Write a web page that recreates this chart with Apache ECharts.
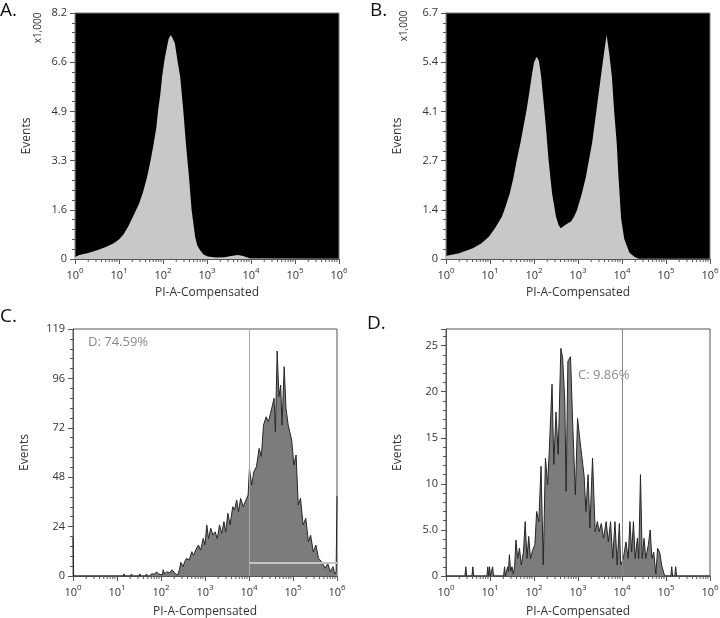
<!DOCTYPE html>
<html lang="en">
<head>
<meta charset="UTF-8">
<title>PI histograms</title>
<script src="https://cdn.jsdelivr.net/npm/echarts@6/dist/echarts.min.js"></script>
<style>html,body{margin:0;padding:0;background:#fff}</style>
</head>
<body>
<div id="main" style="width:720px;height:618px"></div>
<script>
// x positions are stored as decade exponents (10^e)
var xTickExp = ['0', '1', '2', '3', '4', '5', '6'];

// panel A (events x1,000)
var expA = [0, 0.1, 0.3, 0.52, 0.7, 0.87, 1.0, 1.1, 1.21, 1.33, 1.46, 1.55, 1.64, 1.72, 1.79, 1.85, 1.89, 1.94, 1.98,
    2.03, 2.08, 2.13, 2.18, 2.22, 2.27, 2.33, 2.39, 2.46, 2.52, 2.59, 2.65, 2.73, 2.78, 2.84, 2.92, 3.02, 3.2, 3.4,
    3.55, 3.7, 3.82, 3.92, 3.98, 4.0, 6];
var valA = [0.07, 0.13, 0.2, 0.3, 0.4, 0.52, 0.65, 0.82, 1.08, 1.45, 1.86, 2.25, 2.74, 3.3, 3.86, 4.4, 4.97, 5.5, 6.08,
    6.6, 7.0, 7.35, 7.47, 7.35, 7.19, 6.6, 6.08, 4.97, 3.86, 2.74, 1.63, 0.74, 0.45, 0.3, 0.15, 0.08, 0.05, 0.06,
    0.1, 0.13, 0.1, 0.05, 0.02, 0, 0];
var yLabelsA = ['0', '1.6', '3.3', '4.9', '6.6', '8.2'];

// panel B (events x1,000)
var expB = [0, 0.07, 0.3, 0.61, 0.8, 0.98, 1.12, 1.27, 1.36, 1.45, 1.53, 1.61, 1.69, 1.76, 1.83, 1.89, 1.95, 2.0, 2.06,
    2.11, 2.16, 2.2, 2.27, 2.33, 2.41, 2.5, 2.56, 2.61, 2.7, 2.78, 2.84, 2.91, 2.98, 3.08, 3.18, 3.25, 3.32, 3.42, 3.52,
    3.59, 3.65, 3.71, 3.77, 3.82, 3.88, 3.92, 3.98, 4.05, 4.17, 4.28, 4.39, 6];
var valB = [0.08, 0.1, 0.16, 0.29, 0.42, 0.61, 0.85, 1.15, 1.45, 1.79, 2.2, 2.7, 3.15, 3.6, 4.05, 4.51, 5.0, 5.35, 5.51,
    5.4, 5.0, 4.51, 3.6, 2.7, 1.79, 1.15, 0.92, 0.84, 0.92, 0.98, 1.02, 1.15, 1.34, 1.75, 2.24, 2.7, 3.15, 4.06, 4.97,
    5.6, 6.1, 5.6, 4.97, 4.06, 3.15, 2.24, 1.1, 0.55, 0.17, 0.06, 0, 0];
var yLabelsB = ['0', '1.4', '2.7', '4.1', '5.4', '6.7'];

// panel C (events)
var expC = [0, 0.015, 1.14, 1.16, 1.18, 1.31, 1.33, 1.35, 1.5, 1.52, 1.54, 1.65, 1.67, 1.69, 1.76, 1.78, 1.8, 1.86, 1.9,
    1.94, 1.98, 2.03, 2.05, 2.08, 2.13, 2.2, 2.25, 2.29, 2.33, 2.38, 2.42, 2.45, 2.5, 2.54, 2.58, 2.64, 2.7, 2.74, 2.8,
    2.85, 2.9, 2.96, 3.0, 3.04, 3.08, 3.13, 3.18, 3.23, 3.28, 3.33, 3.38, 3.43, 3.47, 3.52, 3.57, 3.63, 3.67, 3.72,
    3.76, 3.81, 3.87, 3.93, 3.98, 4.01, 4.06, 4.11, 4.17, 4.23, 4.28, 4.33, 4.39, 4.44, 4.49, 4.53, 4.57, 4.6, 4.64,
    4.68, 4.72, 4.75, 4.8, 4.84, 4.89, 4.97, 5.02, 5.07, 5.12, 5.17, 5.23, 5.29, 5.35, 5.4, 5.46, 5.52, 5.58, 5.65,
    5.73, 5.79, 5.85, 5.91, 5.95, 5.98, 6];
var valC = [18.5, 0, 0, 1, 0, 0, 1, 0, 0, 1, 0, 0, 1, 0, 0, 1, 0.5, 1, 2,
    1, 1.3, 0.5, 3, 1, 2, 1.5, 3, 2.9, 1, 0.5, 3, 6.6, 4.5, 7, 8.5, 7.7, 11.7, 10, 13,
    14.9, 12.5, 18.1, 15, 24.6, 18, 23, 19.7, 21.3, 18, 24.6, 20.5, 26.2, 21.3, 30.2, 24.6, 33.4, 31.8, 36.6,
    31, 37.4, 33.4, 36.6, 39, 51.9, 43.8, 50.2, 52.7, 61.5, 57.5, 72.7, 76.7, 74.3, 78.4, 77.6, 85.6, 69.5, 108.4,
    86.4, 92, 72.7, 100.8, 80.9, 72.7, 65.5, 53.5, 58.3, 34.2, 37.4, 24.6, 27.8, 16.5, 19.7, 11.7, 14.9, 8.5, 6.9,
    3.7, 6, 2, 4.5, 1, 2, 38.5];
var yLabelsC = ['0', '24', '48', '72', '96', '119'];

// panel D (events)
var expD = [0, 0.43, 0.45, 0.47, 0.59, 0.61, 0.63, 0.93, 0.95, 0.97, 0.99, 1.01, 1.04, 1.06, 1.08, 1.31, 1.33, 1.35,
    1.38, 1.4, 1.42, 1.44, 1.47, 1.5, 1.53, 1.56, 1.59, 1.63, 1.67, 1.71, 1.76, 1.8, 1.84, 1.88, 1.92, 1.97, 2.02,
    2.06, 2.11, 2.16, 2.21, 2.26, 2.31, 2.35, 2.41, 2.45, 2.5, 2.55, 2.61, 2.65, 2.7, 2.73, 2.77, 2.83, 2.88, 2.94,
    2.99, 3.04, 3.08, 3.14, 3.18, 3.23, 3.27, 3.33, 3.39, 3.44, 3.48, 3.53, 3.58, 3.64, 3.69, 3.74, 3.79, 3.84, 3.89,
    3.94, 3.97, 4.03, 4.09, 4.14, 4.18, 4.22, 4.26, 4.3, 4.35, 4.38, 4.42, 4.46, 4.5, 4.54, 4.6, 4.64, 4.68, 4.72,
    4.77, 4.81, 4.86, 4.9, 4.95, 4.98, 5.11, 5.13, 5.15, 5.2, 5.22, 5.24, 6];
var valD = [0, 0, 1, 0, 0, 1, 0, 0, 1, 0, 1, 0, 0, 1, 0, 0, 1, 0,
    0, 1, 0.5, 2.3, 0.5, 1, 0.2, 1, 3.9, 1.9, 3.0, 1.2, 2.6, 5.9, 1.9, 4.3, 1.9, 2.8, 3.4,
    7.0, 5.9, 11.9, 1.2, 12.8, 9.9, 13.9, 20.8, 12.1, 17.8, 13.2, 24.7, 23.7, 19, 9.2, 23.3, 23.8, 16.4, 8.8,
    17.1, 14.9, 15.0, 10.8, 7.0, 11.0, 5.2, 12.8, 4.8, 5.9, 4.8, 5.7, 4.1, 5.9, 3.7, 5.9, 1.9, 5.9, 1.2,
    5.7, 1.2, 1.9, 3.7, 1.9, 5.9, 2.6, 5.9, 1.9, 4.1, 1.9, 11.0, 1.9, 4.1, 1.9, 3.4, 5.0, 1.9, 2.6,
    0.2, 3.0, 2.5, 1.2, 0.3, 0, 0, 1, 0, 0, 1, 0, 0];
var yLabelsD = ['0', '5.0', '10', '15', '20', '25'];

function pairs(exps, vals) {
    return exps.map(function (e, i) { return [Math.pow(10, e), vals[i]]; });
}

// log-spaced minor tick positions on the x axis (2..9 x 10^n)
var minorX = [];
for (var n = 0; n < 6; n++) {
    for (var k = 2; k < 10; k++) minorX.push([k * Math.pow(10, n), 0]);
}

var font = 'Open Sans';
var labelColor = '#333';

function xAxisOf(gi, gap) {
    return {
        type: 'log', logBase: 10, gridIndex: gi, min: 1, max: 1e6, interval: 1,
        name: 'PI-A-Compensated', nameLocation: 'middle', nameGap: gap,
        nameTextStyle: {color: labelColor, fontSize: 12, fontFamily: font},
        axisLine: {lineStyle: {color: '#555', width: 1}},
        axisTick: {show: true, inside: false, length: 5, lineStyle: {color: '#555'}},
        splitLine: {show: false},
        axisLabel: {
            margin: 8, color: labelColor, fontFamily: font,
            formatter: function (v) {
                return '{b|10}{s|' + xTickExp[Math.round(Math.log10(v))] + '}';
            },
            rich: {
                b: {fontSize: 11, color: labelColor, fontFamily: font, lineHeight: 14, verticalAlign: 'bottom'},
                s: {fontSize: 8, color: labelColor, fontFamily: font, lineHeight: 14, verticalAlign: 'top'}
            }
        }
    };
}

function yAxisOf(gi, max, interval, labels) {
    return {
        type: 'value', gridIndex: gi, min: 0, max: max, interval: interval,
        name: 'Events', nameLocation: 'middle', nameGap: 42,
        nameTextStyle: {color: labelColor, fontSize: 12, fontFamily: font},
        axisLine: {show: true, lineStyle: {color: '#555', width: 1}},
        axisTick: {show: true, inside: false, length: 5, lineStyle: {color: '#555'}},
        minorTick: {show: true, splitNumber: 5, length: 3, lineStyle: {color: '#555'}},
        splitLine: {show: false},
        axisLabel: {
            margin: 8, color: labelColor, fontSize: 11, fontFamily: font,
            formatter: function (v) {
                var i = Math.round(v / interval);
                if (Math.abs(v - i * interval) > interval * 0.01) return '';
                return labels[i] !== undefined ? labels[i] : '';
            }
        }
    };
}

function minorSeries(gi) {
    return {
        type: 'custom', xAxisIndex: gi, yAxisIndex: gi, data: minorX, silent: true, clip: false, z: 5,
        renderItem: function (params, api) {
            var p = api.coord([api.value(0), 0]);
            return {
                type: 'line',
                shape: {x1: p[0], y1: p[1], x2: p[0], y2: p[1] + 3},
                style: {stroke: '#555', lineWidth: 1}
            };
        }
    };
}

var chart = echarts.init(document.getElementById('main'), null, {renderer: 'canvas'});

var option = {
    animation: false,
    textStyle: {fontFamily: font},
    grid: [
        {left: 75, top: 13, width: 264, height: 246, show: true, backgroundColor: '#000', borderColor: '#777', borderWidth: 1, outerBoundsMode: 'none'},
        {left: 446, top: 13, width: 264, height: 246, show: true, backgroundColor: '#000', borderColor: '#777', borderWidth: 1, outerBoundsMode: 'none'},
        {left: 73, top: 329, width: 264, height: 247, show: true, backgroundColor: '#fff', borderColor: '#555', borderWidth: 1, outerBoundsMode: 'none'},
        {left: 446, top: 329, width: 264, height: 247, show: true, backgroundColor: '#fff', borderColor: '#555', borderWidth: 1, outerBoundsMode: 'none'}
    ],
    xAxis: [xAxisOf(0, 28), xAxisOf(1, 28), xAxisOf(2, 30), xAxisOf(3, 30)],
    yAxis: [
        yAxisOf(0, 8.2, 1.64, yLabelsA),
        yAxisOf(1, 6.7, 1.34, yLabelsB),
        yAxisOf(2, 119, 23.8, yLabelsC),
        yAxisOf(3, 26.8, 5, yLabelsD)
    ],
    series: [
        {
            type: 'line', xAxisIndex: 0, yAxisIndex: 0, data: pairs(expA, valA), symbol: 'none',
            lineStyle: {width: 0}, areaStyle: {color: '#c8c8c8', opacity: 1}
        },
        {
            type: 'line', xAxisIndex: 1, yAxisIndex: 1, data: pairs(expB, valB), symbol: 'none',
            lineStyle: {width: 0}, areaStyle: {color: '#c8c8c8', opacity: 1}
        },
        {
            type: 'line', xAxisIndex: 2, yAxisIndex: 2, data: pairs(expC, valC), symbol: 'none',
            lineStyle: {width: 1, color: '#262626'}, areaStyle: {color: '#7c7c7c', opacity: 1},
            markLine: {
                silent: true, symbol: 'none', label: {show: false},
                data: [
                    {xAxis: 1e4, lineStyle: {color: '#aaa', width: 1, type: 'solid'}},
                    [{coord: [1e4, 6.4], lineStyle: {color: '#c4c4c4', width: 2, type: 'solid'}}, {coord: [1e6, 6.4]}]
                ]
            }
        },
        {
            type: 'line', xAxisIndex: 3, yAxisIndex: 3, data: pairs(expD, valD), symbol: 'none',
            lineStyle: {width: 1, color: '#262626'}, areaStyle: {color: '#7c7c7c', opacity: 1},
            markLine: {
                silent: true, symbol: 'none', label: {show: false},
                data: [{xAxis: 1e4, lineStyle: {color: '#888', width: 1, type: 'solid'}}]
            }
        },
        minorSeries(0), minorSeries(1), minorSeries(2), minorSeries(3)
    ],
    graphic: [
        {type: 'text', left: 0, top: 1, style: {text: 'A.', font: '19px "Open Sans"', fill: '#111'}},
        {type: 'text', left: 370, top: 1, style: {text: 'B.', font: '19px "Open Sans"', fill: '#111'}},
        {type: 'text', left: 0, top: 307, style: {text: 'C.', font: '19px "Open Sans"', fill: '#111'}},
        {type: 'text', left: 367, top: 314, style: {text: 'D.', font: '19px "Open Sans"', fill: '#111'}},
        {type: 'text', x: 38, y: 28, rotation: Math.PI / 2,
            style: {text: 'x1,000', font: '10px "Open Sans"', fill: labelColor, align: 'center', verticalAlign: 'middle'}},
        {type: 'text', x: 404, y: 26, rotation: Math.PI / 2,
            style: {text: 'x1,000', font: '10px "Open Sans"', fill: labelColor, align: 'center', verticalAlign: 'middle'}},
        {type: 'text', x: 88, y: 342,
            style: {text: 'D: 74.59%', font: '13px "Open Sans"', fill: '#8a8a8a', verticalAlign: 'middle'}},
        {type: 'text', x: 578, y: 375,
            style: {text: 'C: 9.86%', font: '13px "Open Sans"', fill: '#8a8a8a', verticalAlign: 'middle'}}
    ]
};

chart.setOption(option);
</script>
</body>
</html>
